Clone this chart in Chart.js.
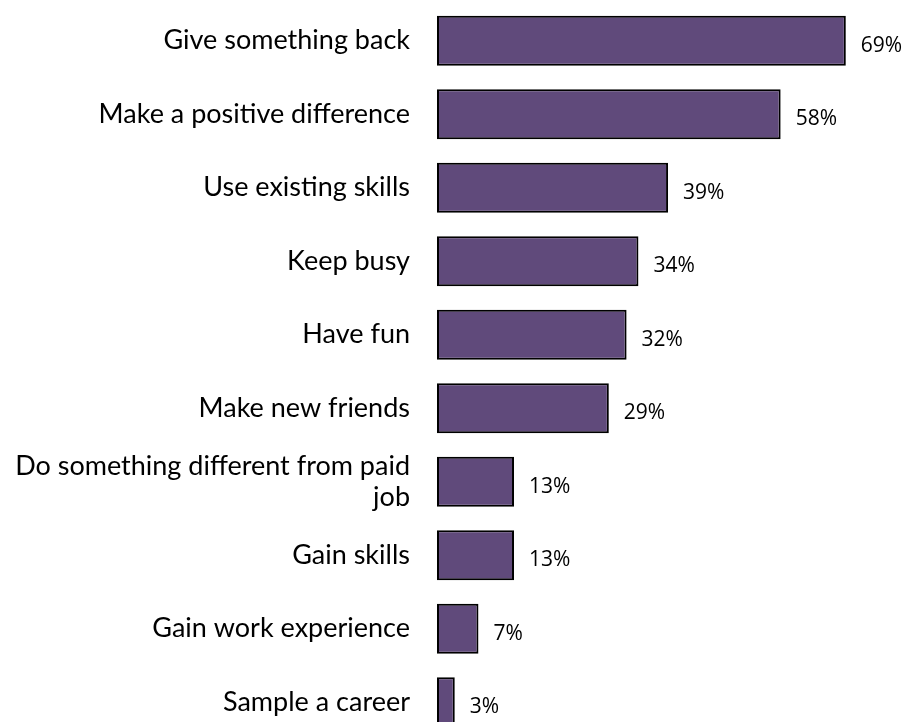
<!DOCTYPE html>
<html>
<head>
<meta charset="utf-8">
<script src="https://cdn.jsdelivr.net/npm/chart.js@4"></script>
<style>
  html, body { margin: 0; padding: 0; background: #fff; overflow: hidden; }
  #wrap { width: 912px; height: 740px; position: relative; }
</style>
</head>
<body>
<div id="wrap"><canvas id="reasonsChart"></canvas></div>
<script>
// reasons for volunteering, % of respondents
const categories = [
  'Give something back',
  'Make a positive difference',
  'Use existing skills',
  'Keep busy',
  'Have fun',
  'Make new friends',
  ['Do something different from paid', 'job'],
  'Gain skills',
  'Gain work experience',
  'Sample a career'
];
const percentages = [69, 58, 39, 34, 32, 29, 13, 13, 7, 3];
const valueLabels = ['69%', '58%', '39%', '34%', '32%', '29%', '13%', '13%', '7%', '3%'];

// prints the percentage to the right of each bar
const valueLabelPlugin = {
  id: 'valueLabels',
  afterDatasetsDraw(chart) {
    const ctx = chart.ctx;
    const meta = chart.getDatasetMeta(0);
    ctx.save();
    ctx.font = '21px "Open Sans", sans-serif';
    ctx.fillStyle = '#000';
    ctx.textAlign = 'left';
    ctx.textBaseline = 'middle';
    meta.data.forEach((bar, i) => {
      ctx.fillText(valueLabels[i], bar.x + 15, bar.y + 5);
    });
    ctx.restore();
  }
};

new Chart(document.getElementById('reasonsChart'), {
  type: 'bar',
  data: {
    labels: categories,
    datasets: [{
      data: percentages,
      backgroundColor: '#604a7b',
      borderColor: '#000',
      borderWidth: 2,
      borderSkipped: false,
      barPercentage: 0.68,
      categoryPercentage: 1
    }]
  },
  options: {
    indexAxis: 'y',
    responsive: true,
    maintainAspectRatio: false,
    animation: false,
    layout: { padding: { top: 4, bottom: 1, left: 0, right: 1 } },
    plugins: {
      legend: { display: false },
      tooltip: { enabled: false }
    },
    scales: {
      x: {
        display: false,
        min: 0,
        max: 80
      },
      y: {
        afterFit(scale) {
          scale.width = 437;
          // labels sit inside their bands, no extra room needed above/below
          scale.paddingTop = 0;
          scale.paddingBottom = 0;
        },
        grid: { display: false },
        border: { display: false },
        ticks: {
          padding: 19,
          color: '#000',
          font: { family: 'Lato', size: 27, lineHeight: 1.15 }
        }
      }
    }
  },
  plugins: [valueLabelPlugin]
});
</script>
</body>
</html>
